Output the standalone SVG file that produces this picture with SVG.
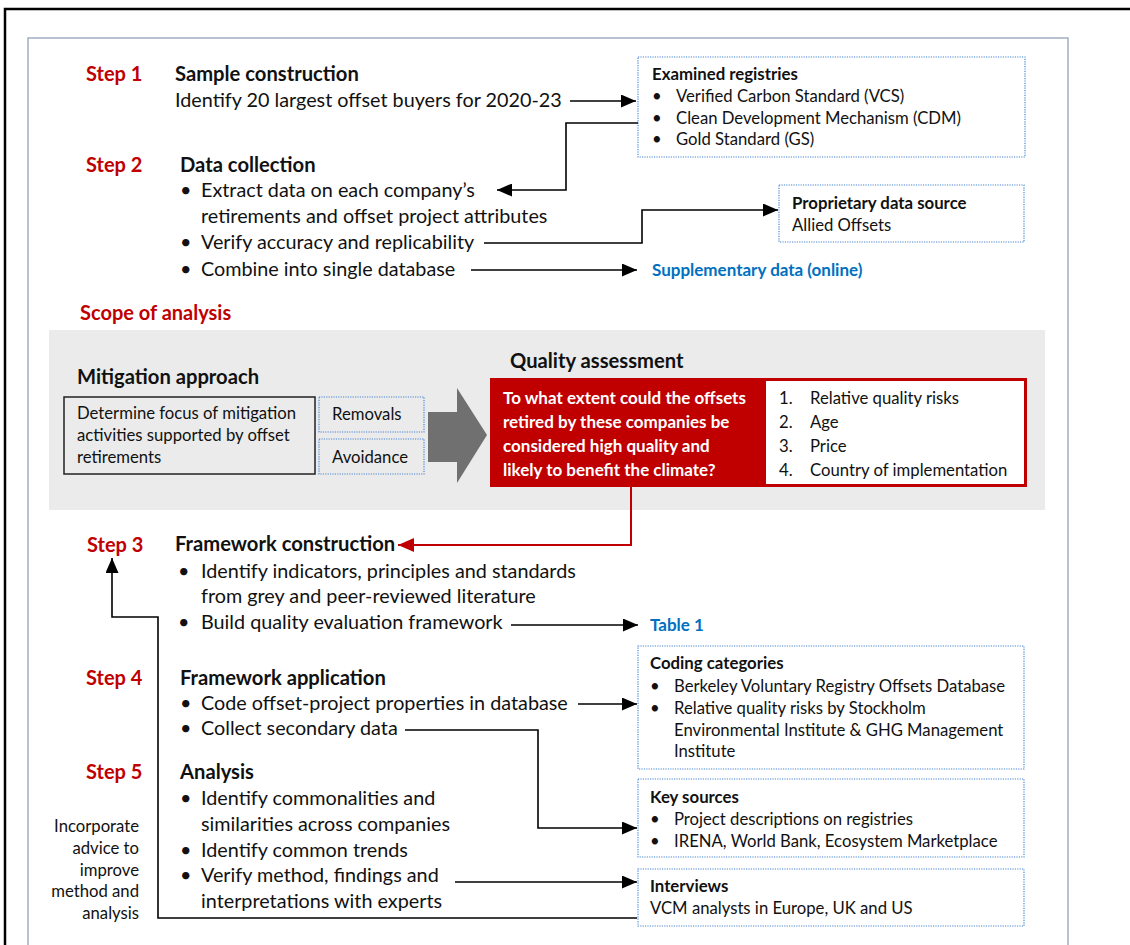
<svg xmlns="http://www.w3.org/2000/svg" width="1130" height="945" viewBox="0 0 1130 945">
<defs>
<style>
text{font-family:Lato,"Open Sans","Liberation Sans",sans-serif;fill:#111}
.step{fill:#c00000;font-weight:bold;font-size:20px}
.h{font-weight:bold;font-size:20.2px}
.t{font-size:19.8px}
.bh{font-weight:bold;font-size:16.8px}
.bt{font-size:16.7px}
.blue{fill:#0070c0;font-weight:bold;font-size:17px}
.q{fill:#fff;font-weight:bold;font-size:17px}
.dot{fill:#fff;stroke:#4a86d4;stroke-width:1.2;stroke-dasharray:1.2 1.2}
.con{fill:none;stroke:#000;stroke-width:1.6}
.red{fill:none;stroke:#c00000;stroke-width:2}
</style>
<marker id="ah" markerUnits="userSpaceOnUse" markerWidth="15" markerHeight="13" refX="15" refY="6.5" orient="auto"><path d="M0,0 L15,6.5 L0,13 z" fill="#000"/></marker>
<marker id="ahr" markerUnits="userSpaceOnUse" markerWidth="16" markerHeight="14" refX="16" refY="7" orient="auto"><path d="M0,0 L16,7 L0,14 z" fill="#c00000"/></marker>
</defs>
<rect x="0" y="0" width="1130" height="945" fill="#fff"/>
<rect x="5" y="9" width="1140" height="950" fill="none" stroke="#000" stroke-width="2.5"/>
<rect x="28" y="38" width="1040" height="930" fill="#fff" stroke="#a9b3c6" stroke-width="1.6"/>

<g id="step1">
<text class="step" x="86" y="81">Step 1</text>
<text class="h" x="175" y="81">Sample construction</text>
<text class="t" x="175" y="107">Identify 20 largest offset buyers for 2020-23</text>
</g>
<g id="registries">
<rect class="dot" x="638" y="57" width="387" height="100"/>
<text class="bh" x="652" y="80">Examined registries</text>
<text class="bt" x="652" y="102">•</text><text class="bt" x="676" y="102">Verified Carbon Standard (VCS)</text>
<text class="bt" x="652" y="124">•</text><text class="bt" x="676" y="124">Clean Development Mechanism (CDM)</text>
<text class="bt" x="652" y="145">•</text><text class="bt" x="676" y="145">Gold Standard (GS)</text>
</g>
<g id="step2">
<text class="step" x="86" y="172">Step 2</text>
<text class="h" x="180" y="172">Data collection</text>
<text class="t" x="180" y="197">•</text><text class="t" x="201" y="197">Extract data on each company’s</text>
<text class="t" x="201" y="223">retirements and offset project attributes</text>
<text class="t" x="180" y="249">•</text><text class="t" x="201" y="249">Verify accuracy and replicability</text>
<text class="t" x="180" y="276">•</text><text class="t" x="201" y="276">Combine into single database</text>
</g>
<g id="proprietary">
<rect class="dot" x="779" y="185" width="245" height="57"/>
<text class="bh" x="792" y="209">Proprietary data source</text>
<text class="bt" x="792" y="231">Allied Offsets</text>
</g>
<g id="supplementary">
<text class="blue" x="652" y="276">Supplementary data (online)</text>
</g>

<g id="scope">
<text class="step" x="80" y="320">Scope of analysis</text>
<rect x="49" y="330" width="996" height="180" fill="#ebebeb"/>
</g>
<g id="mitigation">
<text class="h" x="77" y="384">Mitigation approach</text>
<rect x="64" y="397" width="251" height="77" fill="#ebebeb" stroke="#222" stroke-width="1.5"/>
<text class="bt" x="77" y="419">Determine focus of mitigation</text>
<text class="bt" x="77" y="441">activities supported by offset</text>
<text class="bt" x="77" y="463">retirements</text>
</g>
<g id="removals">
<rect class="dot" x="319" y="397" width="105" height="35" style="fill:#ebebeb"/>
<text class="bt" x="332" y="420">Removals</text>
</g>
<g id="avoidance">
<rect class="dot" x="319" y="439" width="105" height="35" style="fill:#ebebeb"/>
<text class="bt" x="332" y="463">Avoidance</text>
</g>
<g id="bigarrow">
<path d="M428,412 H457 V388 L487,435 L457,483 V462 H428 z" fill="#707070"/>
</g>
<g id="quality">
<text class="h" x="510" y="368">Quality assessment</text>
<rect x="490" y="378" width="537" height="109" fill="#c00000"/>
<rect x="766" y="381" width="258" height="103" fill="#fff"/>
<text class="q" x="503" y="404">To what extent could the offsets</text>
<text class="q" x="503" y="428">retired by these companies be</text>
<text class="q" x="503" y="452">considered high quality and</text>
<text class="q" x="503" y="476">likely to benefit the climate?</text>
<text class="bt" x="779" y="404">1.</text><text class="bt" x="810" y="404">Relative quality risks</text>
<text class="bt" x="779" y="428">2.</text><text class="bt" x="810" y="428">Age</text>
<text class="bt" x="779" y="452">3.</text><text class="bt" x="810" y="452">Price</text>
<text class="bt" x="779" y="476">4.</text><text class="bt" x="810" y="476">Country of implementation</text>
</g>

<g id="step3">
<text class="step" x="87" y="552">Step 3</text>
<text class="h" x="175" y="551">Framework construction</text>
<text class="t" x="178" y="578">•</text><text class="t" x="201" y="578">Identify indicators, principles and standards</text>
<text class="t" x="201" y="603">from grey and peer-reviewed literature</text>
<text class="t" x="178" y="629">•</text><text class="t" x="201" y="629">Build quality evaluation framework</text>
</g>
<g id="table1">
<text class="blue" x="650" y="631">Table 1</text>
</g>

<g id="step4">
<text class="step" x="86" y="685">Step 4</text>
<text class="h" x="180" y="685">Framework application</text>
<text class="t" x="180" y="710">•</text><text class="t" x="201" y="710">Code offset-project properties in database</text>
<text class="t" x="180" y="735">•</text><text class="t" x="201" y="735">Collect secondary data</text>
</g>
<g id="coding">
<rect class="dot" x="638" y="646" width="386" height="123"/>
<text class="bh" x="650" y="669">Coding categories</text>
<text class="bt" x="650" y="692">•</text><text class="bt" x="674" y="692">Berkeley Voluntary Registry Offsets Database</text>
<text class="bt" x="650" y="714">•</text><text class="bt" x="674" y="714">Relative quality risks by Stockholm</text>
<text class="bt" x="674" y="736">Environmental Institute &amp; GHG Management</text>
<text class="bt" x="674" y="757">Institute</text>
</g>
<g id="step5">
<text class="step" x="86" y="779">Step 5</text>
<text class="h" x="180" y="779">Analysis</text>
<text class="t" x="180" y="805">•</text><text class="t" x="201" y="805">Identify commonalities and</text>
<text class="t" x="201" y="831">similarities across companies</text>
<text class="t" x="180" y="857">•</text><text class="t" x="201" y="857">Identify common trends</text>
<text class="t" x="180" y="882">•</text><text class="t" x="201" y="882">Verify method, findings and</text>
<text class="t" x="201" y="908">interpretations with experts</text>
</g>
<g id="keysources">
<rect class="dot" x="638" y="779" width="386" height="78"/>
<text class="bh" x="650" y="803">Key sources</text>
<text class="bt" x="650" y="825">•</text><text class="bt" x="674" y="825">Project descriptions on registries</text>
<text class="bt" x="650" y="847">•</text><text class="bt" x="674" y="847">IRENA, World Bank, Ecosystem Marketplace</text>
</g>
<g id="interviews">
<rect class="dot" x="638" y="869" width="386" height="57"/>
<text class="bh" x="650" y="892">Interviews</text>
<text class="bt" x="650" y="914">VCM analysts in Europe, UK and US</text>
</g>
<g id="feedback-note" style="text-anchor:end">
<text class="bt" x="139" y="832">Incorporate</text>
<text class="bt" x="139" y="854">advice to</text>
<text class="bt" x="139" y="876">improve</text>
<text class="bt" x="139" y="897">method and</text>
<text class="bt" x="139" y="919">analysis</text>
</g>

<g id="connectors">
<path class="con" d="M570,101 H636" marker-end="url(#ah)"/>
<path class="con" d="M638,123 H566 V190 H497" marker-end="url(#ah)"/>
<path class="con" d="M484,243 H642 V210 H778" marker-end="url(#ah)"/>
<path class="con" d="M471,270 H637" marker-end="url(#ah)"/>
<path class="red" d="M631,487 V545 H398" marker-end="url(#ahr)"/>
<path class="con" d="M511,625 H638" marker-end="url(#ah)"/>
<path class="con" d="M578,704 H637" marker-end="url(#ah)"/>
<path class="con" d="M405,730 H538 V828 H637" marker-end="url(#ah)"/>
<path class="con" d="M455,882 H637" marker-end="url(#ah)"/>
<path class="con" d="M637,918 H158 V617 H112 V558" marker-end="url(#ah)"/>
</g>
</svg>
